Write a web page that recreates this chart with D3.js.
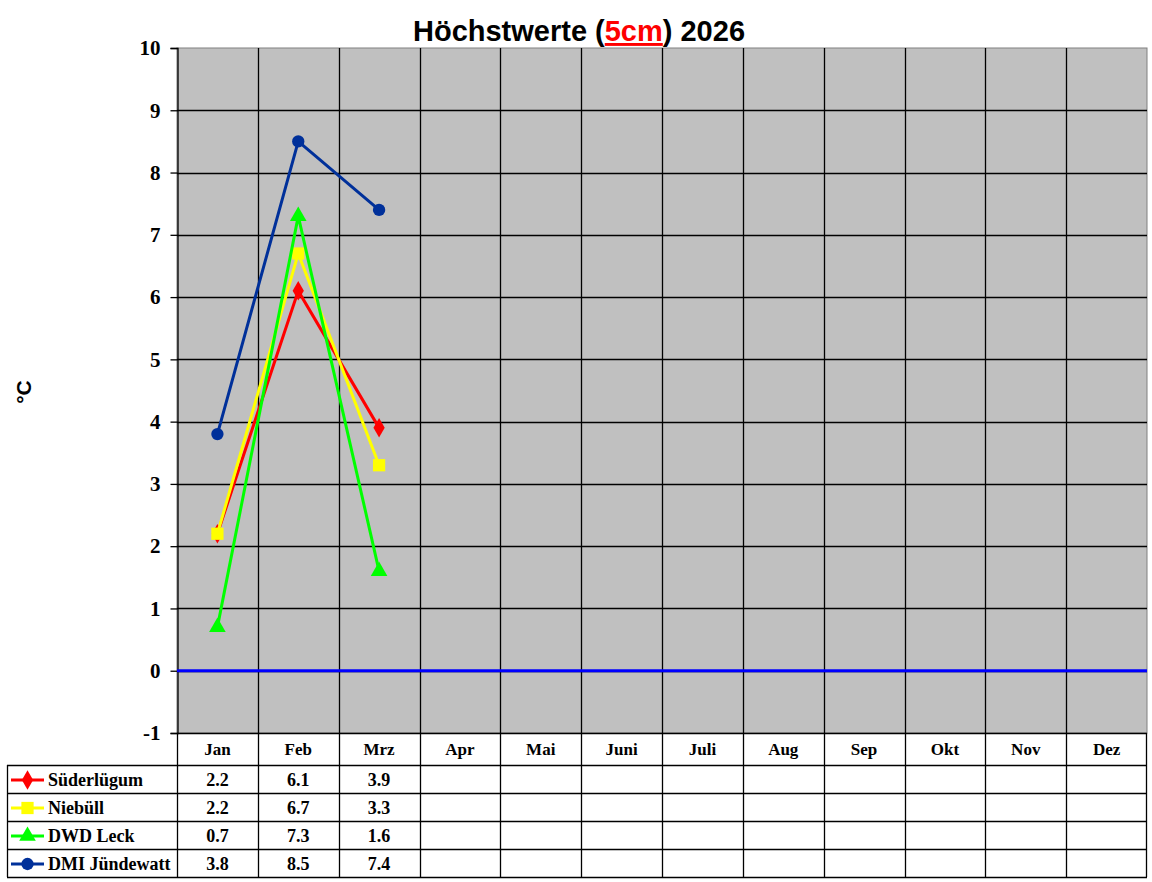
<!DOCTYPE html>
<html>
<head>
<meta charset="utf-8">
<script src="https://cdn.jsdelivr.net/npm/d3@7"></script>
<style>
  body { margin: 0; background: #fff; }
  svg { display: block; }
</style>
</head>
<body>
<div id="chart"></div>
<script>
const months = ["Jan", "Feb", "Mrz", "Apr", "Mai", "Juni", "Juli", "Aug", "Sep", "Okt", "Nov", "Dez"];
const yTicks = [-1, 0, 1, 2, 3, 4, 5, 6, 7, 8, 9, 10];

const stations = ["Süderlügum", "Niebüll", "DWD Leck", "DMI Jündewatt"];
const suederluegum = [2.2, 6.1, 3.9];
const niebuell = [2.2, 6.7, 3.3];
const dwdLeck = [0.7, 7.3, 1.6];
const dmiJuendewatt = [3.8, 8.5, 7.4];

const series = [
  { name: stations[0], values: suederluegum, color: "#ff0000", symbol: d3.symbolDiamond, size: 110 },
  { name: stations[1], values: niebuell, color: "#ffff00", symbol: d3.symbolSquare, size: 150 },
  { name: stations[2], values: dwdLeck, color: "#00ff00", symbol: d3.symbolTriangle, size: 120 },
  { name: stations[3], values: dmiJuendewatt, color: "#00309a", symbol: d3.symbolCircle, size: 120 }
];

const W = 1152, H = 882;
const plot = { left: 177, right: 1147, top: 48, bottom: 733 };
const rowH = 28, headH = 32, legendLeft = 7;

const svg = d3.select("#chart").append("svg")
    .attr("width", W)
    .attr("height", H);

const x = d3.scaleBand()
    .domain(months)
    .range([plot.left, plot.right])
    .padding(0);

const y = d3.scaleLinear()
    .domain([-1, 10])
    .range([plot.bottom, plot.top]);

// plot background
svg.append("rect")
    .attr("x", plot.left)
    .attr("y", plot.top)
    .attr("width", plot.right - plot.left)
    .attr("height", plot.bottom - plot.top)
    .attr("fill", "#c0c0c0")
    .attr("stroke", "#808080")
    .attr("stroke-width", 1);

// horizontal gridlines
svg.append("g")
  .selectAll("line")
  .data(yTicks.filter(d => d > -1 && d < 10))
  .join("line")
    .attr("x1", plot.left)
    .attr("x2", plot.right)
    .attr("y1", d => Math.round(y(d)) + 0.5)
    .attr("y2", d => Math.round(y(d)) + 0.5)
    .attr("stroke", "#000")
    .attr("stroke-width", 1.3);

// vertical gridlines (month boundaries), running down through the table
svg.append("g")
  .selectAll("line")
  .data(months.slice(1))
  .join("line")
    .attr("x1", d => Math.round(x(d)) + 0.5)
    .attr("x2", d => Math.round(x(d)) + 0.5)
    .attr("y1", plot.top)
    .attr("y2", plot.bottom + headH + rowH * 4)
    .attr("stroke", "#000")
    .attr("stroke-width", 1.3);

// y axis
const yAxis = svg.append("g")
    .attr("transform", `translate(${plot.left + 0.5},0)`)
    .call(d3.axisLeft(y).tickValues(yTicks).tickSize(7).tickPadding(10).tickFormat(d => String(d)));
yAxis.select(".domain").attr("stroke", "#000").attr("stroke-width", 1.3);
yAxis.selectAll(".tick line").attr("stroke", "#000").attr("stroke-width", 1.3);
yAxis.selectAll("text")
    .attr("font-family", "Liberation Serif, Times New Roman, serif")
    .attr("font-weight", "bold")
    .attr("font-size", 21)
    .attr("fill", "#000");

// zero line
svg.append("line")
    .attr("x1", plot.left)
    .attr("x2", plot.right)
    .attr("y1", y(0))
    .attr("y2", y(0))
    .attr("stroke", "#0000ff")
    .attr("stroke-width", 3);

// series lines and markers
const cx = i => x(months[i]) + x.bandwidth() / 2;
const line = d3.line()
    .x((d, i) => cx(i))
    .y(d => y(d));

series.forEach(s => {
  svg.append("path")
      .datum(s.values)
      .attr("d", line)
      .attr("fill", "none")
      .attr("stroke", s.color)
      .attr("stroke-width", 3);
  svg.append("g")
    .selectAll("path")
    .data(s.values)
    .join("path")
      .attr("transform", (d, i) => `translate(${cx(i)},${y(d)})`)
      .attr("d", d3.symbol().type(s.symbol).size(s.size))
      .attr("fill", s.color);
});

// title
const title = svg.append("text")
    .attr("x", 579)
    .attr("y", 41)
    .attr("text-anchor", "middle")
    .attr("font-family", "Liberation Sans, Arial, sans-serif")
    .attr("font-weight", "bold")
    .attr("font-size", 29);
title.append("tspan").text("Höchstwerte (");
title.append("tspan").attr("fill", "#ff0000").attr("text-decoration", "underline").text("5cm");
title.append("tspan").text(") 2026");

// y label
svg.append("text")
    .attr("transform", `translate(31,392) rotate(-90)`)
    .attr("text-anchor", "middle")
    .attr("font-family", "Liberation Sans, Arial, sans-serif")
    .attr("font-weight", "bold")
    .attr("font-size", 21)
    .text("°C");

// data table
const table = svg.append("g");
const serif = "Liberation Serif, Times New Roman, serif";
const tableTop = plot.bottom;
const rowsTop = tableTop + headH;
const tableBottom = rowsTop + rowH * series.length;

// horizontal table lines
table.append("line")
    .attr("x1", plot.left).attr("x2", plot.right)
    .attr("y1", tableTop + 0.5).attr("y2", tableTop + 0.5)
    .attr("stroke", "#000").attr("stroke-width", 1.3);
d3.range(series.length + 1).forEach(r => {
  table.append("line")
      .attr("x1", legendLeft).attr("x2", plot.right)
      .attr("y1", rowsTop + r * rowH + 0.5).attr("y2", rowsTop + r * rowH + 0.5)
      .attr("stroke", "#000").attr("stroke-width", 1.3);
});
// outer verticals
table.append("line")
    .attr("x1", legendLeft + 0.5).attr("x2", legendLeft + 0.5)
    .attr("y1", rowsTop).attr("y2", tableBottom)
    .attr("stroke", "#000").attr("stroke-width", 1.3);
table.append("line")
    .attr("x1", plot.left + 0.5).attr("x2", plot.left + 0.5)
    .attr("y1", tableTop).attr("y2", tableBottom)
    .attr("stroke", "#000").attr("stroke-width", 1.3);
table.append("line")
    .attr("x1", plot.right - 0.5).attr("x2", plot.right - 0.5)
    .attr("y1", tableTop).attr("y2", tableBottom)
    .attr("stroke", "#000").attr("stroke-width", 1.3);

// month headers
table.selectAll("text.month")
  .data(months)
  .join("text")
    .attr("class", "month")
    .attr("x", d => x(d) + x.bandwidth() / 2)
    .attr("y", tableTop + 22)
    .attr("text-anchor", "middle")
    .attr("font-family", serif)
    .attr("font-weight", "bold")
    .attr("font-size", 17)
    .text(d => d);

// legend rows and values
series.forEach((s, r) => {
  const cy = rowsTop + r * rowH + rowH / 2 + 1;
  table.append("line")
      .attr("x1", 11).attr("x2", 44)
      .attr("y1", cy).attr("y2", cy)
      .attr("stroke", s.color).attr("stroke-width", 3);
  table.append("path")
      .attr("transform", `translate(27.5,${cy})`)
      .attr("d", d3.symbol().type(s.symbol).size(s.size))
      .attr("fill", s.color);
  table.append("text")
      .attr("x", 48)
      .attr("y", cy + 6)
      .attr("font-family", serif)
      .attr("font-weight", "bold")
      .attr("font-size", 18)
      .text(s.name);
  table.selectAll(null)
    .data(s.values)
    .join("text")
      .attr("x", (d, i) => cx(i))
      .attr("y", cy + 6)
      .attr("text-anchor", "middle")
      .attr("font-family", serif)
      .attr("font-weight", "bold")
      .attr("font-size", 18)
      .text(d => d3.format(".1f")(d));
});
</script>
</body>
</html>
